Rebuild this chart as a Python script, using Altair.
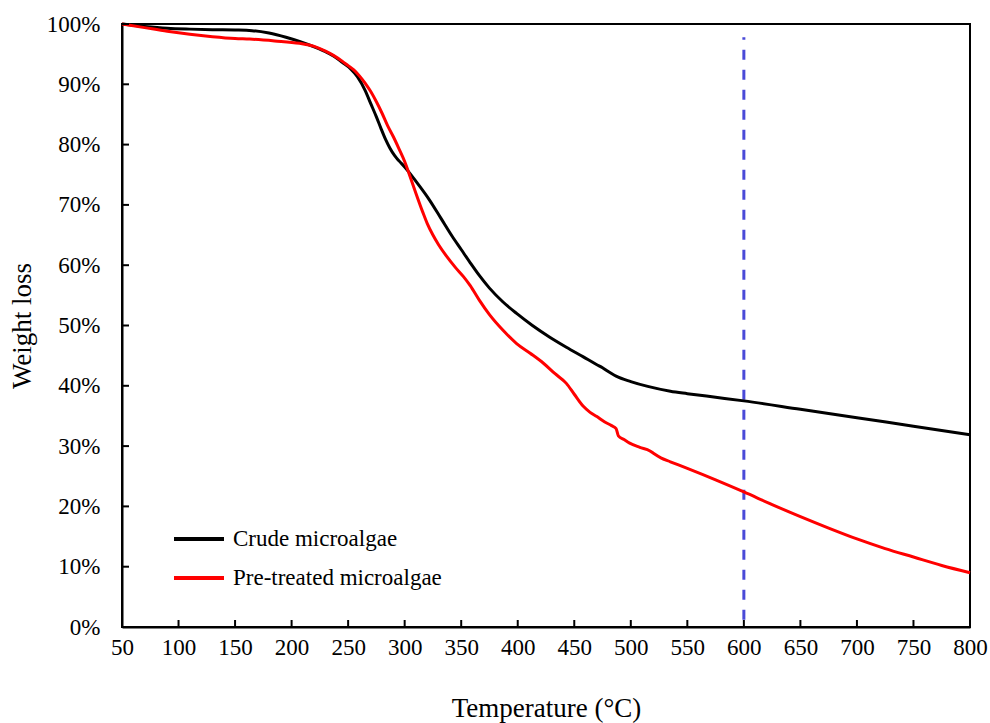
import altair as alt
import pandas as pd

# Thermogravimetric curves: temperature (°C) vs remaining weight (%)
crude_temp = [50, 70, 90, 110, 130, 150, 165, 180, 195, 207, 220, 230, 237, 245, 252, 258,
              265, 270, 275, 279, 283, 287, 291, 295, 300, 310, 322, 332, 342, 350, 358, 366,
              375, 387, 399, 413, 428, 443, 458, 470, 475, 479, 487, 500, 515, 535, 550, 575,
              600, 650, 700, 750, 800]
crude_weight = [100, 99.6, 99.3, 99.15, 99.05, 99.0, 98.9, 98.5, 97.8, 97.1, 96.2, 95.4, 94.7,
                93.6, 92.6, 91.3, 89.0, 86.8, 84.6, 82.7, 80.9, 79.4, 78.2, 77.3, 76.3, 73.9,
                70.8, 67.8, 64.8, 62.6, 60.4, 58.3, 56.2, 53.9, 52.0, 50.0, 48.1, 46.4, 44.8,
                43.5, 43.0, 42.5, 41.6, 40.7, 39.9, 39.1, 38.7, 38.1, 37.5, 36.1, 34.7, 33.3,
                31.9]

pre_temp = [50, 70, 90, 110, 130, 150, 163, 185, 207, 220, 230, 237, 245, 250, 255, 260, 265,
            270, 275, 280, 285, 290, 295, 300, 305, 310, 316, 320, 325, 330, 337, 345, 352, 358,
            366, 375, 387, 399, 411, 423, 433, 443, 450, 458, 464, 470, 477, 483, 487, 489, 494,
            499, 508, 517, 520, 527, 535, 550, 575, 600, 625, 650, 675, 700, 725, 750, 775, 800]
pre_weight = [100, 99.4, 98.8, 98.3, 97.9, 97.6, 97.5, 97.2, 96.8, 96.3, 95.5, 94.8, 93.8,
              93.1, 92.4, 91.4, 90.2, 88.8, 87.1, 85.2, 83.1, 81.3, 79.3, 77.2, 74.6, 71.9,
              68.8, 66.9, 65.0, 63.4, 61.5, 59.6, 58.1, 56.6, 54.2, 51.8, 49.2, 47.0, 45.4,
              43.7, 42.0, 40.4, 38.6, 36.6, 35.6, 34.9, 34.0, 33.4, 32.9, 31.7, 31.1, 30.5,
              29.8, 29.2, 28.8, 28.0, 27.4, 26.3, 24.4, 22.4, 20.3, 18.3, 16.4, 14.6, 13.0,
              11.6, 10.2, 9.0]

series_names = ["Crude microalgae", "Pre-treated microalgae"]
series_colors = ["#000000", "#ff0000"]

x_ticks = list(range(50, 801, 50))
y_ticks = list(range(0, 101, 10))

# Vertical reference line at 600 °C
marker_temp = [600]
marker_top = [97.8]
marker_bottom = [1.2]

FONT = "Liberation Serif"
W, H = 848, 603

df = pd.concat([
    pd.DataFrame({"temp": crude_temp, "weight": crude_weight, "series": series_names[0]}),
    pd.DataFrame({"temp": pre_temp, "weight": pre_weight, "series": series_names[1]}),
])

x_scale = alt.Scale(domain=[50, 800], nice=False, zero=False)
y_scale = alt.Scale(domain=[0, 100], nice=False)

x_axis = alt.Axis(values=x_ticks, title="Temperature (°C)", tickSize=0, grid=False,
                  labelPadding=9, titlePadding=36, labelFlush=False)
y_axis = alt.Axis(values=y_ticks, title="Weight loss", tickSize=0, grid=False,
                  labelExpr="datum.value + '%'", labelPadding=22, titlePadding=10)

lines = alt.Chart(df).mark_line(strokeWidth=3, interpolate="monotone").encode(
    x=alt.X("temp:Q", scale=x_scale, axis=x_axis),
    y=alt.Y("weight:Q", scale=y_scale, axis=y_axis),
    color=alt.Color(
        "series:N",
        scale=alt.Scale(domain=series_names, range=series_colors),
        legend=alt.Legend(
            title=None, orient="none", legendX=50, legendY=488,
            symbolType="stroke", symbolStrokeWidth=4, symbolSize=2500,
            labelFont=FONT, labelFontSize=23, labelColor="black", labelLimit=400,
            labelOffset=7, rowPadding=0,
        ),
    ),
    order="temp:Q",
)

marker = alt.Chart(pd.DataFrame({"temp": marker_temp, "top": marker_top,
                                 "bottom": marker_bottom})).mark_rule(
    color="#4a4ad8", strokeWidth=3, strokeDash=[10, 10]
).encode(x=alt.X("temp:Q", scale=x_scale), y=alt.Y("bottom:Q", scale=y_scale), y2="top:Q")

# Inward-pointing tick marks on the bottom and left axes
x_tick_marks = alt.Chart(pd.DataFrame({"t": x_ticks})).mark_rule(
    color="black", strokeWidth=2
).encode(x=alt.X("t:Q", scale=x_scale), y=alt.value(H), y2=alt.value(H - 7))

y_tick_marks = alt.Chart(pd.DataFrame({"v": y_ticks})).mark_rule(
    color="black", strokeWidth=2
).encode(y=alt.Y("v:Q", scale=y_scale), x=alt.value(0), x2=alt.value(7))

chart = alt.layer(marker, lines, x_tick_marks, y_tick_marks).properties(
    width=W, height=H,
    autosize=alt.AutoSizeParams(type="none"),
    padding={"left": 122, "top": 24, "right": 20, "bottom": 96},
    background="white",
).configure_view(
    stroke="black", strokeWidth=2
).configure_axis(
    domainColor="black", domainWidth=2,
    labelFont=FONT, labelFontSize=23, labelColor="black",
    titleFont=FONT, titleFontSize=27, titleFontWeight="normal", titleColor="black",
)

chart.save("out.html", embed_options={"renderer": "svg", "actions": False})
